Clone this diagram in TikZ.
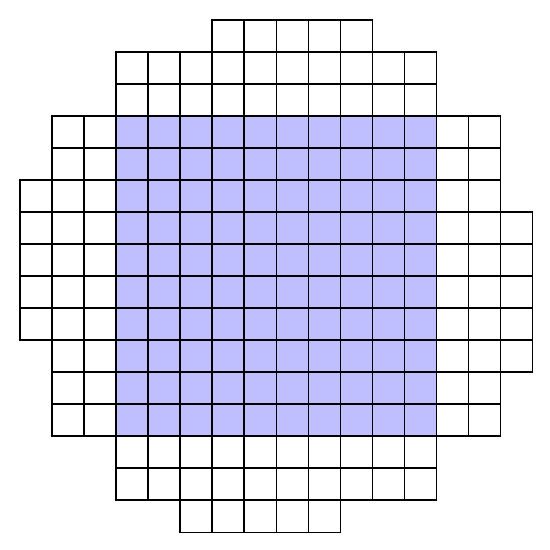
\documentclass[tikz,border=0pt]{standalone}
\usepackage{tikz}
\tikzset{
  cellw/.style={draw=black, fill=white, line width=0.9pt},
  cellb/.style={draw=black, fill=blue!25, line width=0.9pt}
}
\begin{document}
\begin{tikzpicture}[x=1cm,y=1cm]
\useasboundingbox (0,0) rectangle (17.1875,-17.1875);
% origin of grid: px (20,20) -> (0.625,-0.625)
\begin{scope}[shift={(0.625,-0.625)}]
\foreach \r/\a/\b in {0/6/10,1/3/12,2/3/12,3/1/14,4/1/14,5/0/14,6/0/15,7/0/15,8/0/15,9/0/15,10/1/15,11/1/14,12/1/14,13/3/12,14/3/12,15/5/9}{
  \foreach \c in {\a,...,\b}{
    \pgfmathtruncatemacro{\isblue}{(\r>=3)&&(\r<=12)&&(\c>=3)&&(\c<=12)}
    \ifnum\isblue=1
      \draw[cellb] (\c,-\r) rectangle ++(1,-1);
    \else
      \draw[cellw] (\c,-\r) rectangle ++(1,-1);
    \fi
  }
}
\end{scope}
\end{tikzpicture}
\end{document}
